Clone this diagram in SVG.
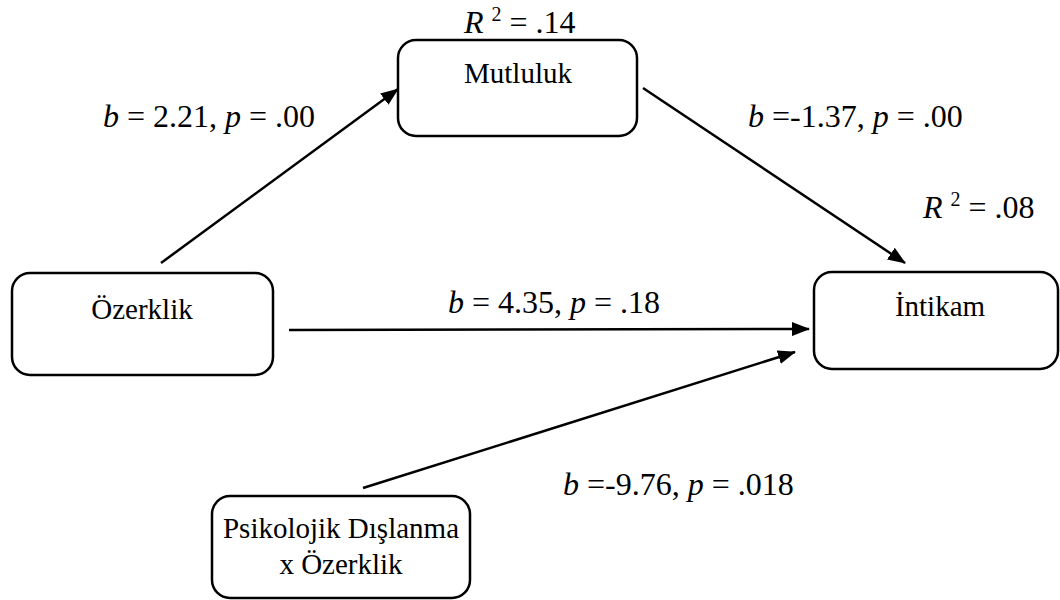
<svg xmlns="http://www.w3.org/2000/svg" width="1060" height="600" viewBox="0 0 1060 600">
<defs>
<style>
.box{fill:#fff;stroke:#000;stroke-width:2.5}
.lbl{font-family:"Liberation Serif","Times New Roman",serif;font-size:29px;fill:#000}
.st{font-family:"Liberation Serif","Times New Roman",serif;font-size:32px;fill:#000}
.i{font-style:italic}
.ln{stroke:#000;stroke-width:2.5;fill:none;marker-end:url(#ah)}
</style>
<marker id="ah" markerUnits="userSpaceOnUse" markerWidth="18" markerHeight="14" refX="17" refY="7" orient="auto" viewBox="0 0 18 14">
<path d="M0,0 L18,7 L0,14 z" fill="#000"/>
</marker>
</defs>
<rect width="1060" height="600" fill="#fff"/>
<g id="connectors">
<line class="ln" x1="161" y1="263" x2="398" y2="89"/>
<line class="ln" x1="643" y1="88" x2="905" y2="263"/>
<line class="ln" x1="289" y1="330" x2="809" y2="329"/>
<line class="ln" x1="363" y1="488" x2="795" y2="352"/>
</g>
<g id="mutluluk">
<rect class="box" x="398" y="40" width="239" height="96" rx="18"/>
<text class="lbl" x="518" y="83" text-anchor="middle">Mutluluk</text>
</g>
<g id="ozerklik">
<rect class="box" x="12" y="273" width="261" height="102" rx="18"/>
<text class="lbl" x="142" y="319" text-anchor="middle">Özerklik</text>
</g>
<g id="intikam">
<rect class="box" x="814" y="272" width="244" height="97" rx="18"/>
<text class="lbl" x="940" y="316" text-anchor="middle">İntikam</text>
</g>
<g id="psikolojik">
<rect class="box" x="212" y="496" width="258" height="102" rx="18"/>
<text class="lbl" x="341" y="538" text-anchor="middle">Psikolojik Dışlanma</text>
<text class="lbl" x="341" y="574" text-anchor="middle">x Özerklik</text>
</g>
<g id="labels">
<text class="st" x="464" y="33"><tspan class="i">R</tspan> <tspan font-size="20" dy="-12">2</tspan><tspan dy="12"> = .14</tspan></text>
<text class="st" x="923" y="218"><tspan class="i">R</tspan> <tspan font-size="20" dy="-12">2</tspan><tspan dy="12"> = .08</tspan></text>
<text class="st" x="103" y="127"><tspan class="i">b</tspan> = 2.21, <tspan class="i">p</tspan> = .00</text>
<text class="st" x="748" y="127"><tspan class="i">b</tspan> =-1.37, <tspan class="i">p</tspan> = .00</text>
<text class="st" x="448" y="313"><tspan class="i">b</tspan> = 4.35, <tspan class="i">p</tspan> = .18</text>
<text class="st" x="563" y="495"><tspan class="i">b</tspan> =-9.76, <tspan class="i">p</tspan> = .018</text>
</g>
</svg>
